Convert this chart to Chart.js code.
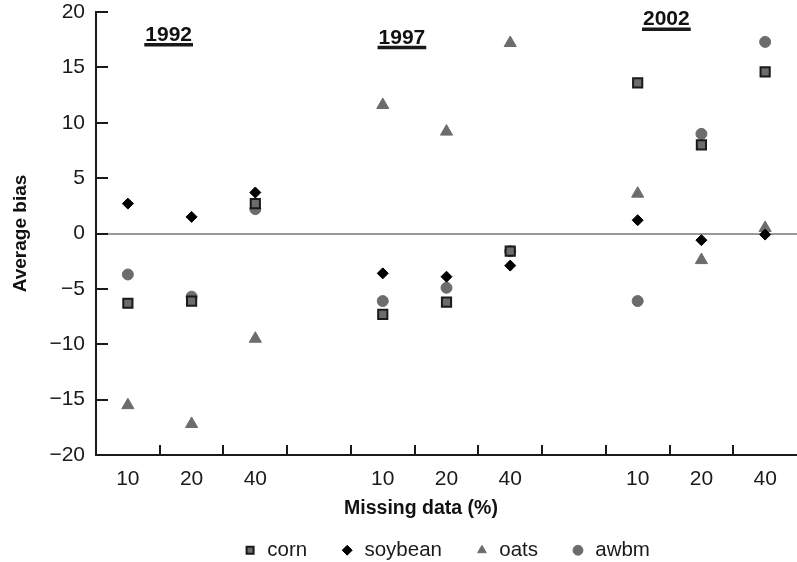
<!DOCTYPE html>
<html>
<head>
<meta charset="utf-8">
<script src="https://cdn.jsdelivr.net/npm/chart.js@4.4.1/dist/chart.umd.min.js"></script>
<style>
  html, body { margin: 0; padding: 0; background: #fff; }
  #wrap { width: 797px; height: 562px; }
</style>
</head>
<body>
<div id="wrap"><canvas id="bias_chart"></canvas></div>
<script>
// missing data (%) per year block, empty slots separate the years
const missing_labels = ['10', '20', '40', '', '10', '20', '40', '', '10', '20', '40'];
const year_labels = ['1992', '1997', '2002'];
const y_ticks = [-20, -15, -10, -5, 0, 5, 10, 15, 20];

const corn    = [-6.3, -6.1,  2.7, null, -7.3, -6.2, -1.6, null, 13.6,  8.0, 14.6];
const soybean = [ 2.7,  1.5,  3.7, null, -3.6, -3.9, -2.9, null,  1.2, -0.6, -0.1];
const oats    = [-15.5, -17.2, -9.5, null, 11.6, 9.2, 17.2, null,  3.6, -2.4,  0.5];
const awbm    = [-3.7, -5.7,  2.2, null, -6.1, -4.9, -1.6, null, -6.1,  9.0, 17.3];

const FONT = '"Liberation Sans", Arial, sans-serif';
const gray = '#6c6c6c';

// ticks point inwards, year headings and x title drawn here
const extras = {
  id: 'extras',
  afterDraw(chart) {
    const {ctx, chartArea: area, scales: {x, y}} = chart;
    ctx.save();
    ctx.strokeStyle = '#1a1a1a';
    ctx.lineWidth = 2;
    ctx.beginPath();
    y.ticks.forEach((t, i) => {
      const py = Math.round(y.getPixelForTick(i));
      ctx.moveTo(area.left, py);
      ctx.lineTo(area.left + 12, py);
    });
    for (let i = 1; i < missing_labels.length; i++) {
      const px = Math.round((x.getPixelForValue(i - 1) + x.getPixelForValue(i)) / 2);
      ctx.moveTo(px, area.bottom);
      ctx.lineTo(px, area.bottom - 10);
    }
    ctx.stroke();

    // year headings
    const spots = [[0.64, 17.4], [4.3, 17.15], [8.45, 18.8]];
    ctx.font = 'bold 21px ' + FONT;
    ctx.fillStyle = '#111';
    ctx.textAlign = 'center';
    ctx.textBaseline = 'alphabetic';
    year_labels.forEach((txt, i) => {
      const px = x.getPixelForValue(spots[i][0]);
      const py = y.getPixelForValue(spots[i][1]);
      ctx.fillText(txt, px, py);
      const w = ctx.measureText(txt).width;
      ctx.lineWidth = 3.5;
      ctx.beginPath();
      ctx.moveTo(px - w / 2 - 1, py + 4);
      ctx.lineTo(px + w / 2 + 1, py + 4);
      ctx.stroke();
    });

    // x axis title
    ctx.font = 'bold 19.5px ' + FONT;
    ctx.textBaseline = 'middle';
    ctx.fillText('Missing data (%)', x.getPixelForValue(4.6), area.bottom + 54);
    ctx.restore();
  }
};

const bias_ctx = document.getElementById('bias_chart');

const bias_config = {
  type: 'line',
  data: {
    labels: missing_labels,
    datasets: [
      { label: 'corn', data: corn, showLine: false, pointStyle: 'rect',
        backgroundColor: gray, borderColor: '#1a1a1a', borderWidth: 1.5,
        pointBackgroundColor: gray, pointBorderColor: '#1a1a1a', pointBorderWidth: 2, pointRadius: 6.5 },
      { label: 'soybean', data: soybean, showLine: false, pointStyle: 'rectRot',
        backgroundColor: '#000', borderColor: '#000', borderWidth: 1,
        pointBackgroundColor: '#000', pointBorderColor: '#000', pointBorderWidth: 1, pointRadius: 5.5 },
      { label: 'oats', data: oats, showLine: false, pointStyle: 'triangle',
        backgroundColor: gray, borderColor: gray, borderWidth: 1,
        pointBackgroundColor: gray, pointBorderColor: gray, pointBorderWidth: 1, pointRadius: 7 },
      { label: 'awbm', data: awbm, showLine: false, pointStyle: 'circle',
        backgroundColor: gray, borderColor: gray, borderWidth: 1,
        pointBackgroundColor: gray, pointBorderColor: gray, pointBorderWidth: 1, pointRadius: 5.5 }
    ]
  },
  options: {
    responsive: true,
    maintainAspectRatio: false,
    animation: false,
    layout: { padding: 0, autoPadding: false },
    plugins: {
      tooltip: { enabled: false },
      legend: {
        position: 'bottom',
        fullSize: false,
        maxHeight: 55,
        labels: {
          usePointStyle: true,
          boxWidth: 14,
          boxHeight: 7,
          padding: 33,
          color: '#1a1a1a',
          font: { family: FONT, size: 20.5 }
        }
      }
    },
    scales: {
      x: {
        type: 'category',
        offset: true,
        afterFit: (s) => { s.height = 52; },
        grid: { offset: true, color: 'transparent', drawTicks: false },
        border: { display: true, color: '#1a1a1a', width: 2 },
        ticks: { autoSkip: false, maxRotation: 0, padding: 12, color: '#1a1a1a',
                 font: { family: FONT, size: 21 } }
      },
      y: {
        min: -20,
        max: 20,
        afterFit: (s) => { s.width = 96; s.paddingTop = 12; s.paddingBottom = 12; },
        afterBuildTicks: (s) => { s.ticks = y_ticks.map(v => ({ value: v })); },
        grid: {
          drawTicks: false,
          lineWidth: 2,
          color: (c) => (c.tick && c.tick.value === 0) ? '#9a9a9a' : 'transparent'
        },
        border: { display: true, color: '#1a1a1a', width: 2 },
        ticks: {
          padding: 11,
          color: '#1a1a1a',
          font: { family: FONT, size: 21 },
          callback: (v) => String(v).replace('-', '\u2212')
        },
        title: {
          display: true,
          text: 'Average bias',
          color: '#111',
          padding: { top: 9, bottom: 0 },
          font: { family: FONT, size: 19, weight: 'bold' }
        }
      }
    }
  },
  plugins: [extras]
};

const bias_chart = new Chart(bias_ctx, bias_config);
</script>
</body>
</html>
